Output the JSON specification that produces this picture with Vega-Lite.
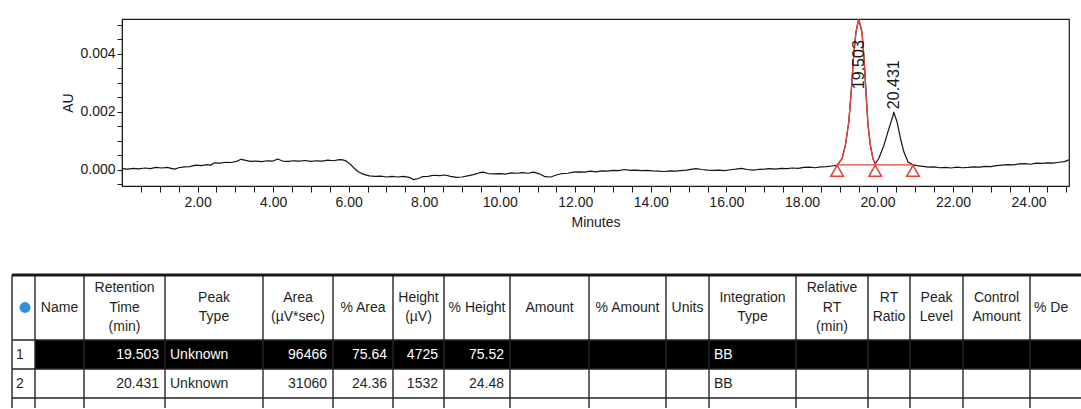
{
  "$schema": "https://vega.github.io/schema/vega-lite/v6.json",
  "padding": {"left": 10, "top": 17, "right": 0, "bottom": 0},
  "spacing": 43,
  "background": "white",
  "config": {
    "font": "Liberation Sans",
    "view": {"stroke": null},
    "text": {"font": "Liberation Sans"}
  },
  "datasets": {
    "trace": [
      {"min": 0.0, "au": 0.00004}, {"min": 0.15, "au": 0.00002}, {"min": 0.3, "au": 0.00005}, {"min": 0.45, "au": 0.00003},
      {"min": 0.6, "au": 0.00006}, {"min": 0.75, "au": 0.00004}, {"min": 0.9, "au": 0.00008}, {"min": 1.05, "au": 0.00006},
      {"min": 1.2, "au": 0.00008}, {"min": 1.3, "au": 0.00005}, {"min": 1.4, "au": 0.00002}, {"min": 1.5, "au": 0.00007},
      {"min": 1.65, "au": 0.0001}, {"min": 1.8, "au": 0.00011}, {"min": 1.95, "au": 0.00016}, {"min": 2.1, "au": 0.00014},
      {"min": 2.25, "au": 0.00018}, {"min": 2.35, "au": 0.00016}, {"min": 2.45, "au": 0.00024}, {"min": 2.6, "au": 0.00023},
      {"min": 2.75, "au": 0.00026}, {"min": 2.9, "au": 0.00025}, {"min": 3.05, "au": 0.0003}, {"min": 3.15, "au": 0.00036},
      {"min": 3.25, "au": 0.00033}, {"min": 3.4, "au": 0.00029}, {"min": 3.55, "au": 0.0003}, {"min": 3.7, "au": 0.00028},
      {"min": 3.85, "au": 0.00031}, {"min": 4.0, "au": 0.0003}, {"min": 4.12, "au": 0.00037}, {"min": 4.25, "au": 0.0003},
      {"min": 4.4, "au": 0.00029}, {"min": 4.55, "au": 0.00031}, {"min": 4.7, "au": 0.0003}, {"min": 4.85, "au": 0.00032},
      {"min": 5.0, "au": 0.00029}, {"min": 5.15, "au": 0.00031}, {"min": 5.3, "au": 0.0003}, {"min": 5.45, "au": 0.00033},
      {"min": 5.6, "au": 0.00031}, {"min": 5.75, "au": 0.00035}, {"min": 5.85, "au": 0.00034}, {"min": 5.95, "au": 0.00029},
      {"min": 6.05, "au": 0.00018}, {"min": 6.15, "au": 0.00005}, {"min": 6.25, "au": -0.00007}, {"min": 6.4, "au": -0.00016},
      {"min": 6.55, "au": -0.00021}, {"min": 6.7, "au": -0.00023}, {"min": 6.85, "au": -0.00022}, {"min": 7.0, "au": -0.00025},
      {"min": 7.15, "au": -0.00023}, {"min": 7.3, "au": -0.00025}, {"min": 7.45, "au": -0.00023}, {"min": 7.6, "au": -0.00026},
      {"min": 7.72, "au": -0.00034}, {"min": 7.85, "au": -0.0003}, {"min": 7.95, "au": -0.00024}, {"min": 8.1, "au": -0.00023},
      {"min": 8.25, "au": -0.00019}, {"min": 8.4, "au": -0.0002}, {"min": 8.55, "au": -0.00018}, {"min": 8.7, "au": -0.00023},
      {"min": 8.85, "au": -0.00026}, {"min": 9.0, "au": -0.00025}, {"min": 9.15, "au": -0.00021}, {"min": 9.3, "au": -0.00017},
      {"min": 9.45, "au": -0.00011}, {"min": 9.55, "au": -0.00008}, {"min": 9.7, "au": -0.00013}, {"min": 9.85, "au": -0.00014},
      {"min": 10.0, "au": -0.00013}, {"min": 10.15, "au": -0.00015}, {"min": 10.3, "au": -0.00011}, {"min": 10.45, "au": -0.00012},
      {"min": 10.6, "au": -0.0001}, {"min": 10.75, "au": -0.00012}, {"min": 10.9, "au": -0.00008}, {"min": 11.05, "au": -0.00014},
      {"min": 11.2, "au": -0.00024}, {"min": 11.35, "au": -0.00025}, {"min": 11.5, "au": -0.00018}, {"min": 11.65, "au": -0.00013},
      {"min": 11.8, "au": -0.00012}, {"min": 11.95, "au": -0.00008}, {"min": 12.1, "au": -0.00007}, {"min": 12.25, "au": -0.00008},
      {"min": 12.4, "au": -0.00005}, {"min": 12.55, "au": -0.00007}, {"min": 12.7, "au": -0.00004}, {"min": 12.85, "au": -0.00005},
      {"min": 13.0, "au": -0.00002}, {"min": 13.15, "au": -0.00003}, {"min": 13.3, "au": 0.00001}, {"min": 13.45, "au": -0.00002},
      {"min": 13.6, "au": -0.00001}, {"min": 13.75, "au": -0.00003}, {"min": 13.9, "au": -0.00002}, {"min": 14.05, "au": -0.00004},
      {"min": 14.2, "au": -0.00005}, {"min": 14.35, "au": -0.00006}, {"min": 14.5, "au": -0.00004}, {"min": 14.65, "au": -0.00005},
      {"min": 14.8, "au": -0.00003}, {"min": 14.95, "au": -0.00001}, {"min": 15.1, "au": 0.00002}, {"min": 15.2, "au": 0.00004},
      {"min": 15.35, "au": 0.00001}, {"min": 15.5, "au": -0.00001}, {"min": 15.65, "au": -0.00002}, {"min": 15.8, "au": -0.00001},
      {"min": 15.95, "au": -0.00003}, {"min": 16.1, "au": 0.0}, {"min": 16.25, "au": 0.00002}, {"min": 16.4, "au": 0.00005},
      {"min": 16.55, "au": 0.00001}, {"min": 16.7, "au": -0.00001}, {"min": 16.85, "au": 0.00001}, {"min": 17.0, "au": 0.00002},
      {"min": 17.15, "au": 0.00004}, {"min": 17.3, "au": 0.00002}, {"min": 17.45, "au": 0.00005}, {"min": 17.6, "au": 0.00004},
      {"min": 17.75, "au": 0.00006}, {"min": 17.9, "au": 0.00005}, {"min": 18.05, "au": 0.00008}, {"min": 18.2, "au": 0.00009},
      {"min": 18.35, "au": 0.00007}, {"min": 18.5, "au": 0.0001}, {"min": 18.65, "au": 0.00011}, {"min": 18.8, "au": 0.00013},
      {"min": 18.93, "au": 0.00015}, {"min": 19.06, "au": 0.00038}, {"min": 19.15, "au": 0.00084}, {"min": 19.24, "au": 0.00164},
      {"min": 19.31, "au": 0.00279}, {"min": 19.37, "au": 0.00394}, {"min": 19.43, "au": 0.00475}, {"min": 19.503, "au": 0.0052},
      {"min": 19.59, "au": 0.00475}, {"min": 19.65, "au": 0.00372}, {"min": 19.7, "au": 0.00258}, {"min": 19.75, "au": 0.00154},
      {"min": 19.81, "au": 0.00086}, {"min": 19.88, "au": 0.00038}, {"min": 19.94, "au": 0.00021}, {"min": 20.03, "au": 0.00038},
      {"min": 20.17, "au": 0.00084}, {"min": 20.3, "au": 0.00141}, {"min": 20.4, "au": 0.00182}, {"min": 20.431, "au": 0.00199},
      {"min": 20.52, "au": 0.00164}, {"min": 20.61, "au": 0.00107}, {"min": 20.7, "au": 0.00061}, {"min": 20.81, "au": 0.00027},
      {"min": 20.92, "au": 0.00018}, {"min": 21.05, "au": 0.00014}, {"min": 21.2, "au": 0.00012}, {"min": 21.35, "au": 0.00009},
      {"min": 21.5, "au": 0.0001}, {"min": 21.65, "au": 0.00007}, {"min": 21.8, "au": 0.00008}, {"min": 21.95, "au": 0.00006},
      {"min": 22.1, "au": 0.00009}, {"min": 22.25, "au": 0.00007}, {"min": 22.4, "au": 0.00008}, {"min": 22.55, "au": 0.0001},
      {"min": 22.7, "au": 0.00009}, {"min": 22.85, "au": 0.00012}, {"min": 23.0, "au": 0.00011}, {"min": 23.15, "au": 0.00014},
      {"min": 23.3, "au": 0.00016}, {"min": 23.45, "au": 0.00018}, {"min": 23.6, "au": 0.00017}, {"min": 23.75, "au": 0.0002},
      {"min": 23.9, "au": 0.00021}, {"min": 24.05, "au": 0.00019}, {"min": 24.2, "au": 0.00023}, {"min": 24.35, "au": 0.00022},
      {"min": 24.5, "au": 0.00024}, {"min": 24.65, "au": 0.00023}, {"min": 24.8, "au": 0.00026}, {"min": 24.95, "au": 0.00028},
      {"min": 25.07, "au": 0.00034}
    ],
    "integrationMarks": [
      {"min": 18.93, "au": 0.00017},
      {"min": 19.94, "au": 0.00017},
      {"min": 20.94, "au": 0.00017}
    ],
    "peaks": [
      {"peak": 1, "rt": 19.503, "type": "Unknown", "area": 96466, "pctArea": 75.64, "height": 4725, "pctHeight": 75.52, "integ": "BB", "labelAU": 0.00278},
      {"peak": 2, "rt": 20.431, "type": "Unknown", "area": 31060, "pctArea": 24.36, "height": 1532, "pctHeight": 24.48, "integ": "BB", "labelAU": 0.00209}
    ],
    "columns": [
      {"key": "icon", "header": "", "lines": 0, "left": 10, "mid": 23, "right": 33},
      {"key": "name", "header": "Name", "lines": 1, "left": 33, "mid": 57.5, "right": 82},
      {"key": "rt", "header": "Retention\nTime\n(min)", "lines": 3, "left": 82, "mid": 122.5, "right": 163},
      {"key": "type", "header": "Peak\nType", "lines": 2, "left": 163, "mid": 212, "right": 261},
      {"key": "area", "header": "Area\n(µV*sec)", "lines": 2, "left": 261, "mid": 296, "right": 331},
      {"key": "pctArea", "header": "% Area", "lines": 1, "left": 331, "mid": 361, "right": 391},
      {"key": "height", "header": "Height\n(µV)", "lines": 2, "left": 391, "mid": 416.5, "right": 442},
      {"key": "pctHeight", "header": "% Height", "lines": 1, "left": 442, "mid": 475, "right": 508},
      {"key": "amount", "header": "Amount", "lines": 1, "left": 508, "mid": 547.5, "right": 587},
      {"key": "pctAmount", "header": "% Amount", "lines": 1, "left": 587, "mid": 625.5, "right": 664},
      {"key": "units", "header": "Units", "lines": 1, "left": 664, "mid": 685.5, "right": 707},
      {"key": "integ", "header": "Integration\nType", "lines": 2, "left": 707, "mid": 750.5, "right": 794},
      {"key": "relRT", "header": "Relative\nRT\n(min)", "lines": 3, "left": 794, "mid": 830, "right": 866},
      {"key": "rtRatio", "header": "RT\nRatio", "lines": 2, "left": 866, "mid": 887, "right": 908},
      {"key": "level", "header": "Peak\nLevel", "lines": 2, "left": 908, "mid": 934.5, "right": 961},
      {"key": "control", "header": "Control\nAmount", "lines": 2, "left": 961, "mid": 994.5, "right": 1028},
      {"key": "dev", "header": "% Deviation", "lines": 1, "left": 1028, "mid": 1054.5, "right": 1081}
    ]
  },
  "vconcat": [
    {
      "width": 947,
      "height": 167,
      "view": {"stroke": "#1a1a1a", "strokeWidth": 1.2},
      "encoding": {
        "x": {
          "field": "min", "type": "quantitative",
          "scale": {"domain": [0, 25.07], "nice": false, "zero": false},
          "axis": {
            "values": [0.5,1,1.5,2,2.5,3,3.5,4,4.5,5,5.5,6,6.5,7,7.5,8,8.5,9,9.5,10,10.5,11,11.5,12,12.5,13,13.5,14,14.5,15,15.5,16,16.5,17,17.5,18,18.5,19,19.5,20,20.5,21,21.5,22,22.5,23,23.5,24,24.5,25],
            "labelExpr": "(round(datum.value * 10) % 20 == 0) ? format(datum.value, '.2f') : ''",
            "title": "Minutes",
            "grid": false,
            "tickSize": 6,
            "labelPadding": 3,
            "titlePadding": 6,
            "labelFontSize": 14,
            "titleFontSize": 14,
            "titleFontWeight": "normal",
            "labelColor": "#1a1a1a",
            "titleColor": "#1a1a1a",
            "domainColor": "#1a1a1a",
            "tickColor": "#1a1a1a",
            "labelOverlap": false,
            "labelFlush": false
          }
        },
        "y": {
          "field": "au", "type": "quantitative",
          "scale": {"domain": [-0.00056, 0.0052], "nice": false, "zero": false},
          "axis": {
            "values": [-0.0005,0,0.0005,0.001,0.0015,0.002,0.0025,0.003,0.0035,0.004,0.0045,0.005],
            "labelExpr": "(round(datum.value * 10000) % 20 == 0) ? format(datum.value, '.3f') : ''",
            "title": "AU",
            "grid": false,
            "tickSize": 5,
            "labelPadding": 2,
            "titlePadding": 4,
            "labelFontSize": 14,
            "titleFontSize": 14,
            "titleFontWeight": "normal",
            "labelColor": "#1a1a1a",
            "titleColor": "#1a1a1a",
            "domainColor": "#1a1a1a",
            "tickColor": "#1a1a1a",
            "labelOverlap": false
          }
        }
      },
      "layer": [
        {
          "data": {"name": "trace"},
          "mark": {"type": "line", "color": "#141414", "strokeWidth": 1.2, "strokeJoin": "round", "clip": true}
        },
        {
          "data": {"name": "trace"},
          "transform": [{"filter": "datum.min >= 18.93 && datum.min <= 19.94"}],
          "mark": {"type": "line", "color": "#e0443a", "strokeWidth": 1.4, "strokeJoin": "round", "clip": true}
        },
        {
          "data": {"name": "integrationMarks"},
          "mark": {"type": "line", "color": "#e0443a", "strokeWidth": 1.4}
        },
        {
          "data": {"name": "integrationMarks"},
          "mark": {"type": "point", "shape": "triangle-up", "filled": false, "color": "#e0443a", "size": 160, "strokeWidth": 1.5, "yOffset": 6, "opacity": 1}
        },
        {
          "data": {"name": "peaks"},
          "mark": {"type": "text", "angle": 270, "align": "left", "baseline": "middle", "fontSize": 16, "color": "#1a1a1a"},
          "encoding": {
            "x": {"field": "rt", "type": "quantitative"},
            "y": {"field": "labelAU", "type": "quantitative"},
            "text": {"field": "rt", "type": "quantitative", "format": ".3f"}
          }
        }
      ]
    },
    {
      "width": 961,
      "height": 133,
      "layer": [
        {
          "data": {"name": "peaks"},
          "transform": [{"filter": "datum.peak == 1"}],
          "mark": {"type": "rect", "color": "#000000"},
          "encoding": {
            "x": {"datum": 33, "type": "quantitative", "scale": {"domain": [120, 1081], "nice": false, "zero": false}, "axis": null},
            "x2": {"datum": 1081},
            "y": {"datum": 0, "type": "quantitative", "scale": {"domain": [-2.2414, 2.3448], "nice": false, "zero": false, "reverse": true}, "axis": null},
            "y2": {"datum": 1}
          }
        },
        {
          "data": {"name": "columns"},
          "mark": {"type": "rule", "color": "#262626", "strokeWidth": 1.4},
          "encoding": {
            "x": {"field": "left", "type": "quantitative", "scale": {"domain": [120, 1081], "nice": false, "zero": false}, "axis": null},
            "y": {"datum": -2.2414, "type": "quantitative", "scale": {"domain": [-2.2414, 2.3448], "nice": false, "zero": false, "reverse": true}, "axis": null},
            "y2": {"datum": 2.3448}
          }
        },
        {
          "data": {"name": "peaks"},
          "mark": {"type": "rule", "color": "#262626", "strokeWidth": 1.4},
          "encoding": {
            "x": {"datum": 10, "type": "quantitative", "scale": {"domain": [120, 1081], "nice": false, "zero": false}, "axis": null},
            "x2": {"datum": 1081},
            "y": {"field": "peak", "type": "quantitative", "scale": {"domain": [-2.2414, 2.3448], "nice": false, "zero": false, "reverse": true}, "axis": null}
          }
        },
        {
          "data": {"values": [{"edge": "header bottom", "pos": 0}]},
          "mark": {"type": "rule", "color": "#262626", "strokeWidth": 1.4},
          "encoding": {
            "x": {"datum": 10, "type": "quantitative", "scale": {"domain": [120, 1081], "nice": false, "zero": false}, "axis": null},
            "x2": {"datum": 1081},
            "y": {"field": "pos", "type": "quantitative", "scale": {"domain": [-2.2414, 2.3448], "nice": false, "zero": false, "reverse": true}, "axis": null}
          }
        },
        {
          "data": {"values": [{"edge": "table top", "pos": -2.2414}]},
          "mark": {"type": "rule", "color": "#1a1a1a", "strokeWidth": 3},
          "encoding": {
            "x": {"datum": 10, "type": "quantitative", "scale": {"domain": [120, 1081], "nice": false, "zero": false}, "axis": null},
            "x2": {"datum": 1081},
            "y": {"field": "pos", "type": "quantitative", "scale": {"domain": [-2.2414, 2.3448], "nice": false, "zero": false, "reverse": true}, "axis": null}
          }
        },
        {
          "data": {"name": "columns"},
          "transform": [{"filter": "datum.key != 'dev' && datum.lines == 1"}],
          "mark": {"type": "text", "align": "center", "baseline": "middle", "fontSize": 14, "color": "#1f1f1f"},
          "encoding": {
            "x": {"field": "mid", "type": "quantitative", "scale": {"domain": [120, 1081], "nice": false, "zero": false}, "axis": null},
            "y": {"datum": -1.1207, "type": "quantitative", "scale": {"domain": [-2.2414, 2.3448], "nice": false, "zero": false, "reverse": true}, "axis": null},
            "text": {"field": "header", "type": "nominal"}
          }
        },
        {
          "data": {"name": "columns"},
          "transform": [{"filter": "datum.lines == 2"}],
          "mark": {"type": "text", "align": "center", "baseline": "middle", "fontSize": 14, "lineBreak": "\n", "lineHeight": 19.5, "dy": -9.75, "color": "#1f1f1f"},
          "encoding": {
            "x": {"field": "mid", "type": "quantitative", "scale": {"domain": [120, 1081], "nice": false, "zero": false}, "axis": null},
            "y": {"datum": -1.1207, "type": "quantitative", "scale": {"domain": [-2.2414, 2.3448], "nice": false, "zero": false, "reverse": true}, "axis": null},
            "text": {"field": "header", "type": "nominal"}
          }
        },
        {
          "data": {"name": "columns"},
          "transform": [{"filter": "datum.lines == 3"}],
          "mark": {"type": "text", "align": "center", "baseline": "middle", "fontSize": 14, "lineBreak": "\n", "lineHeight": 19.5, "dy": -19.5, "color": "#1f1f1f"},
          "encoding": {
            "x": {"field": "mid", "type": "quantitative", "scale": {"domain": [120, 1081], "nice": false, "zero": false}, "axis": null},
            "y": {"datum": -1.1207, "type": "quantitative", "scale": {"domain": [-2.2414, 2.3448], "nice": false, "zero": false, "reverse": true}, "axis": null},
            "text": {"field": "header", "type": "nominal"}
          }
        },
        {
          "data": {"name": "columns"},
          "transform": [{"filter": "datum.key == 'dev'"}],
          "mark": {"type": "text", "align": "left", "baseline": "middle", "fontSize": 14, "dx": 4, "limit": 42, "ellipsis": " ", "color": "#1f1f1f"},
          "encoding": {
            "x": {"field": "left", "type": "quantitative", "scale": {"domain": [120, 1081], "nice": false, "zero": false}, "axis": null},
            "y": {"datum": -1.1207, "type": "quantitative", "scale": {"domain": [-2.2414, 2.3448], "nice": false, "zero": false, "reverse": true}, "axis": null},
            "text": {"field": "header", "type": "nominal"}
          }
        },
        {
          "data": {"name": "columns"},
          "transform": [{"filter": "datum.key == 'icon'"}],
          "mark": {"type": "point", "shape": "circle", "filled": true, "color": "#2f8fd8", "size": 120, "opacity": 1},
          "encoding": {
            "x": {"field": "mid", "type": "quantitative", "scale": {"domain": [120, 1081], "nice": false, "zero": false}, "axis": null},
            "y": {"datum": -1.1207, "type": "quantitative", "scale": {"domain": [-2.2414, 2.3448], "nice": false, "zero": false, "reverse": true}, "axis": null}
          }
        },
        {
          "data": {"name": "peaks"},
          "mark": {"type": "text", "align": "left", "baseline": "middle", "fontSize": 14, "dx": 4, "dy": -14.5, "color": "#1f1f1f"},
          "encoding": {
            "x": {"datum": 10, "type": "quantitative", "scale": {"domain": [120, 1081], "nice": false, "zero": false}, "axis": null},
            "y": {"field": "peak", "type": "quantitative", "scale": {"domain": [-2.2414, 2.3448], "nice": false, "zero": false, "reverse": true}, "axis": null},
            "text": {"field": "peak", "type": "nominal"}
          }
        },
        {
          "data": {"name": "peaks"},
          "transform": [
            {"fold": ["rt", "area", "pctArea", "height", "pctHeight"], "as": ["key", "value"]},
            {"lookup": "key", "from": {"data": {"name": "columns"}, "key": "key", "fields": ["left", "right"]}}
          ],
          "mark": {"type": "text", "align": "right", "baseline": "middle", "fontSize": 14, "dx": -6, "dy": -14.5},
          "encoding": {
            "x": {"field": "right", "type": "quantitative", "scale": {"domain": [120, 1081], "nice": false, "zero": false}, "axis": null},
            "y": {"field": "peak", "type": "quantitative", "scale": {"domain": [-2.2414, 2.3448], "nice": false, "zero": false, "reverse": true}, "axis": null},
            "text": {"field": "value", "type": "nominal"},
            "color": {"condition": {"test": "datum.peak == 1", "value": "#ffffff"}, "value": "#1f1f1f"}
          }
        },
        {
          "data": {"name": "peaks"},
          "transform": [
            {"fold": ["type", "integ"], "as": ["key", "value"]},
            {"lookup": "key", "from": {"data": {"name": "columns"}, "key": "key", "fields": ["left", "right"]}}
          ],
          "mark": {"type": "text", "align": "left", "baseline": "middle", "fontSize": 14, "dx": 5, "dy": -14.5},
          "encoding": {
            "x": {"field": "left", "type": "quantitative", "scale": {"domain": [120, 1081], "nice": false, "zero": false}, "axis": null},
            "y": {"field": "peak", "type": "quantitative", "scale": {"domain": [-2.2414, 2.3448], "nice": false, "zero": false, "reverse": true}, "axis": null},
            "text": {"field": "value", "type": "nominal"},
            "color": {"condition": {"test": "datum.peak == 1", "value": "#ffffff"}, "value": "#1f1f1f"}
          }
        }
      ]
    }
  ]
}
